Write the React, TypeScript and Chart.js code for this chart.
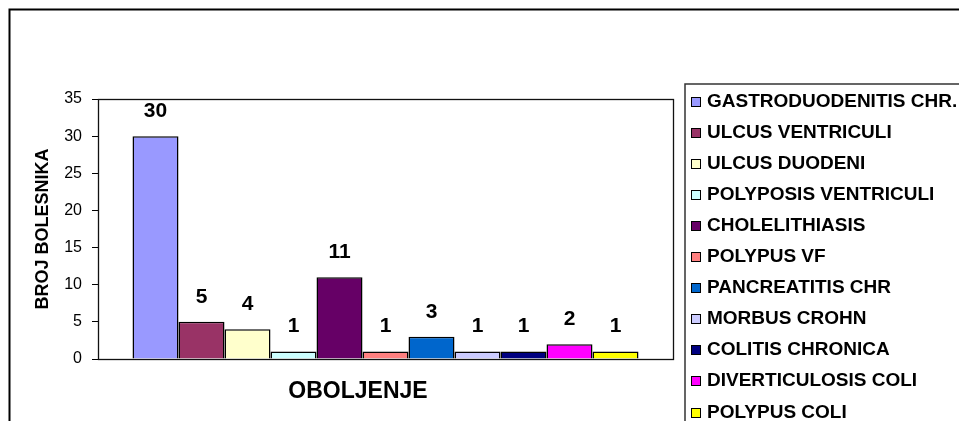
import { useEffect, useRef } from 'react';
import { Chart, registerables } from 'chart.js';

Chart.register(...registerables);

// Diagnoses (one dataset each) and number of patients
const diagnoses = [
  'GASTRODUODENITIS CHR.',
  'ULCUS VENTRICULI',
  'ULCUS DUODENI',
  'POLYPOSIS VENTRICULI',
  'CHOLELITHIASIS',
  'POLYPUS VF',
  'PANCREATITIS CHR',
  'MORBUS CROHN',
  'COLITIS CHRONICA',
  'DIVERTICULOSIS COLI',
  'POLYPUS COLI',
];
const patientCounts = [30, 5, 4, 1, 11, 1, 3, 1, 1, 2, 1];
const barColors = [
  '#9999FF', '#993366', '#FFFFCC', '#CCFFFF', '#660066', '#FF8080',
  '#0066CC', '#CCCCFF', '#000080', '#FF00FF', '#FFFF00',
];
const categories = [''];
const yMin = 0;
const yMax = 35;
const yStep = 5;
const yTitle = 'BROJ BOLESNIKA';
const xTitle = 'OBOLJENJE';

const FONT = "'Liberation Sans', Arial, sans-serif";

const decorations = {
  id: 'decorations',
  beforeDraw(chart: any) {
    const { ctx, width, height } = chart;
    ctx.save();
    ctx.fillStyle = '#fff';
    ctx.fillRect(0, 0, width, height);
    // outer frame (runs past the window edges)
    ctx.strokeStyle = '#000';
    ctx.lineWidth = 2;
    ctx.strokeRect(9.5, 9.5, 2000, 2000);
    ctx.restore();
  },
  afterDraw(chart: any) {
    const { ctx, chartArea } = chart;
    ctx.save();

    // plot area frame
    ctx.strokeStyle = '#111';
    ctx.lineWidth = 1.3;
    ctx.strokeRect(
      Math.round(chartArea.left) + 0.5,
      Math.round(chartArea.top) + 0.5,
      Math.round(chartArea.right - chartArea.left),
      Math.round(chartArea.bottom - chartArea.top)
    );

    // value labels above bars
    ctx.fillStyle = '#000';
    ctx.font = `bold 21px ${FONT}`;
    ctx.textAlign = 'center';
    ctx.textBaseline = 'middle';
    chart.data.datasets.forEach((ds: any, i: number) => {
      const meta = chart.getDatasetMeta(i);
      meta.data.forEach((bar: any, j: number) => {
        ctx.fillText(String(ds.data[j]), bar.x, bar.y - 25);
      });
    });

    // x axis title
    ctx.font = `bold 23px ${FONT}`;
    ctx.fillText(xTitle, 358, 392);

    // legend box
    ctx.strokeStyle = '#333';
    ctx.lineWidth = 1.5;
    ctx.strokeRect(685, 84, 600, 600);

    ctx.font = `bold 19px ${FONT}`;
    ctx.textAlign = 'left';
    ctx.textBaseline = 'alphabetic';
    chart.data.datasets.forEach((ds: any, i: number) => {
      const cy = 99.5 + i * 31.1;
      const mx = 691;
      const my = Math.round(cy - 3);
      ctx.fillStyle = ds.backgroundColor;
      ctx.fillRect(mx, my, 9, 9);
      ctx.strokeStyle = '#000';
      ctx.lineWidth = 1;
      ctx.strokeRect(mx + 0.5, my + 0.5, 9, 9);
      ctx.fillStyle = '#000';
      ctx.fillText(ds.label, 707, cy + 7);
    });

    ctx.restore();
  },
};

export default function App() {
  const canvasRef = useRef<HTMLCanvasElement | null>(null);

  useEffect(() => {
    const canvas = canvasRef.current;
    if (!canvas) return;
    const chart = new Chart(canvas, {
      type: 'bar',
      data: {
        labels: categories,
        datasets: diagnoses.map((name, i) => ({
          label: name,
          data: [patientCounts[i]],
          backgroundColor: barColors[i],
          borderColor: '#000',
          borderWidth: 1.5,
          categoryPercentage: 0.88,
          barPercentage: 1,
        })),
      },
      options: {
        animation: false,
        responsive: false,
        devicePixelRatio: 1,
        layout: { padding: { left: 0, top: 99, right: 286, bottom: 0 } },
        plugins: {
          legend: { display: false },
          tooltip: { enabled: false },
        },
        scales: {
          x: {
            type: 'category',
            ticks: { display: false },
            grid: { display: false },
            border: { display: false },
            afterFit: (scale: any) => {
              scale.height = 62;
            },
          },
          y: {
            min: yMin,
            max: yMax,
            ticks: {
              stepSize: yStep,
              color: '#000',
              padding: 10,
              font: { family: FONT, size: 16 },
            },
            grid: {
              drawOnChartArea: false,
              drawTicks: true,
              tickLength: 6,
              color: '#000',
              lineWidth: 1,
            },
            border: { display: false },
            title: {
              display: true,
              text: yTitle,
              color: '#000',
              font: { family: FONT, size: 18, weight: 'bold' },
              padding: { top: 32, bottom: 0 },
            },
            afterFit: (scale: any) => {
              scale.width = 98;
            },
          },
        },
      },
      plugins: [decorations],
    });
    return () => chart.destroy();
  }, []);

  return (
    <div style={{ position: 'fixed', left: 0, top: 0, width: 959, height: 421, overflow: 'hidden' }}>
      <canvas ref={canvasRef} width={959} height={421} style={{ display: 'block' }} />
    </div>
  );
}
